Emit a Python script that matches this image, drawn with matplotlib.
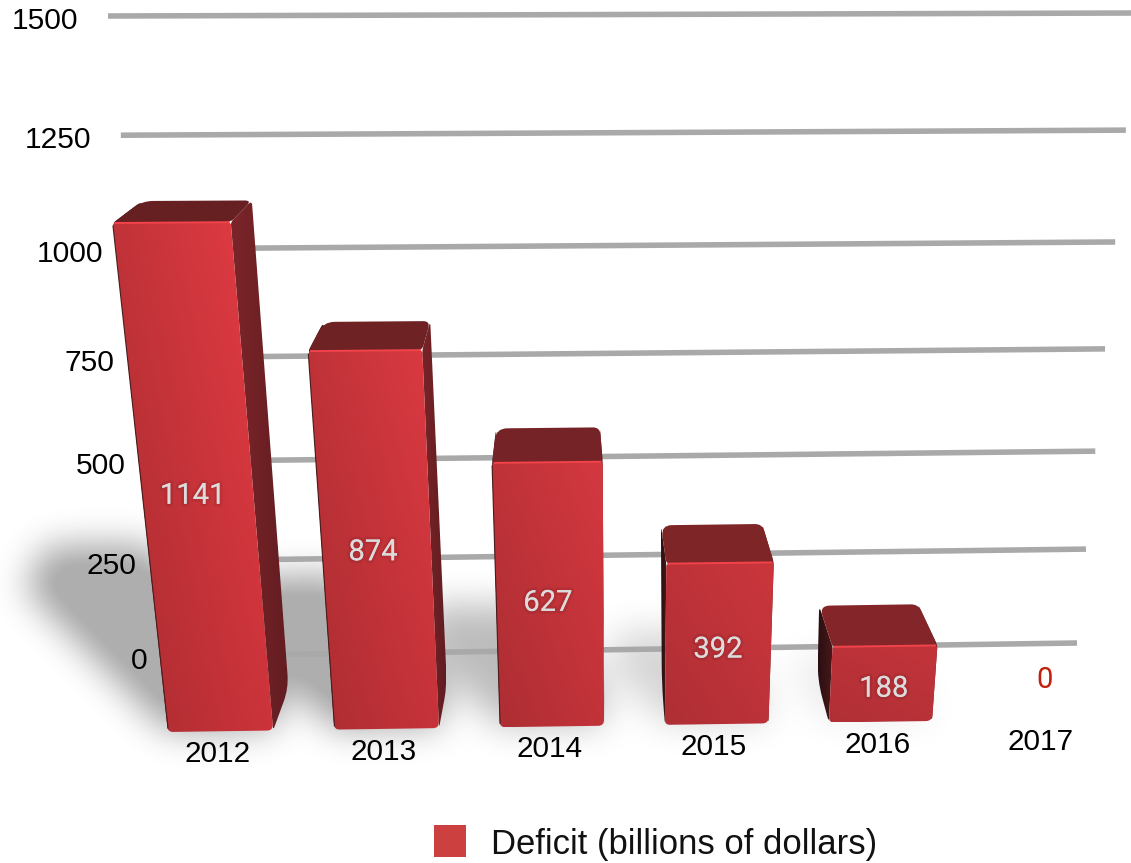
"""Federal deficit by year, drawn as perspective 3D columns on a receding wall."""
import matplotlib
matplotlib.use("Agg")
import matplotlib.pyplot as plt
import matplotlib.patheffects as pe
import numpy as np
from matplotlib.colors import to_rgb
from matplotlib.patches import PathPatch, Rectangle
from matplotlib.path import Path

plt.rcParams["font.family"] = "Liberation Sans"

YEARS = ["2012", "2013", "2014", "2015", "2016", "2017"]
DEFICIT = [1141, 874, 627, 392, 188, 0]
TICKS = [0, 250, 500, 750, 1000, 1250, 1500]
LEGEND_LABEL = "Deficit (billions of dollars)"

W, H = 1131, 863
VMAX_FACE = 1141
BAR_W = 0.631
U_END = 4 + BAR_W

GRID_COLOR = "#a9a9a9"
SWATCH = "#cc4040"


def homography(src, dst):
    """Solve the 3x3 projective map taking four src points to four dst points."""
    a, b = [], []
    for (u, v), (x, y) in zip(src, dst):
        a.append([u, v, 1, 0, 0, 0, -u * x, -v * x])
        a.append([0, 0, 0, u, v, 1, -u * y, -v * y])
        b += [x, y]
    h = np.linalg.solve(np.array(a, float), np.array(b, float))
    return np.append(h, 1.0).reshape(3, 3)


def plane(corners, u_end, v_end):
    """corners are the pixel spots of (0,0), (u_end,0), (u_end,v_end), (0,v_end)."""
    h = homography([(0, 0), (u_end, 0), (u_end, v_end), (0, v_end)], corners)

    def project(u, v):
        p = h @ np.array([u, v, 1.0])
        return np.array([p[0] / p[2], p[1] / p[2]])
    return project


front = plane([(168, 732), (932, 721), (968, 217), (113, 223)], U_END, VMAX_FACE)
back = plane([(188, 690), (915, 678), (935, 197), (142, 201)], U_END, VMAX_FACE)
wall = plane([(177, 656), (1077, 643), (1137, 13), (108, 16)], 1, 1500)


def rounded(points, radii):
    """Closed path through points with each corner eased by its radius."""
    pts = [np.asarray(p, float) for p in points]
    n = len(pts)
    verts, codes = [], []
    for i, p in enumerate(pts):
        prev, nxt = pts[i - 1], pts[(i + 1) % n]
        r = radii[i] if np.ndim(radii) else radii
        d1 = np.linalg.norm(prev - p)
        d2 = np.linalg.norm(nxt - p)
        a = p + (prev - p) * min(r / d1, 0.5)
        b = p + (nxt - p) * min(r / d2, 0.5)
        verts += [a, p, b]
        codes += [Path.MOVETO if i == 0 else Path.LINETO, Path.CURVE3, Path.CURVE3]
    verts.append(verts[0])
    codes.append(Path.CLOSEPOLY)
    return Path(np.array(verts), codes)


def mix(c0, c1, t):
    return np.array(to_rgb(c0)) * t + np.array(to_rgb(c1)) * (1 - t)


def gradient_face(ax, path, tl, tr, bl, br, zorder):
    """Fill path with a colour blended between the four bbox corners."""
    box = path.get_extents()
    s, t = np.meshgrid(np.linspace(0, 1, 48), np.linspace(0, 1, 48))
    s, t = s[..., None], t[..., None]
    img = (tl * (1 - s) + tr * s) * (1 - t) + (bl * (1 - s) + br * s) * t
    im = ax.imshow(img, extent=(box.x0, box.x1, box.y1, box.y0), origin="upper",
                   aspect="auto", interpolation="bilinear", zorder=zorder)
    clip = PathPatch(path, facecolor="none", edgecolor="none", zorder=zorder)
    ax.add_patch(clip)
    im.set_clip_path(clip)


def box_blur(a, r, axis):
    pad = [(0, 0), (0, 0)]
    pad[axis] = (r + 1, r)
    c = np.cumsum(np.pad(a, pad, mode="edge"), axis=axis)
    return (np.take(c, range(2 * r + 1, c.shape[axis]), axis=axis)
            - np.take(c, range(0, c.shape[axis] - 2 * r - 1), axis=axis)) / (2 * r + 1)


def soft(a, r):
    for _ in range(3):
        a = box_blur(box_blur(a, r, 0), r, 1)
    return a


def cast_shadows(ax):
    # half resolution is plenty for something this blurry
    xs, ys = np.meshgrid(np.arange(0, W, 2) + 1.0, np.arange(0, H, 2) + 1.0)
    grid = np.column_stack([xs.ravel(), ys.ravel()])
    mask = np.zeros(xs.shape)
    for i, val in enumerate(DEFICIT):
        if val == 0:
            continue
        fl, fr = front(i, 0), front(i + BAR_W, 0)
        bl, br = back(i, 0), back(i + BAR_W, 0)
        off = np.array([-0.125, -0.125]) * val
        hexagon = Path([fl, fl + off, bl + off, br + off, br, fr, fl])
        inside = hexagon.contains_points(grid).reshape(xs.shape)
        # short columns throw a fainter shadow
        mask = np.maximum(mask, inside * min(1.0, val / 874))
    mask = soft(mask, 8)
    rgba = np.zeros(mask.shape + (4,))
    rgba[..., 3] = np.clip(mask * 1.15, 0, 1) * 0.32
    ax.imshow(rgba, extent=(0, W, H, 0), origin="upper", aspect="auto", zorder=1)


def draw_bar(ax, i, val):
    lit = 1 - i / 4
    z = 5 + i
    ftl, ftr = front(i, val), front(i + BAR_W, val)
    fbl, fbr = front(i, 0), front(i + BAR_W, 0)
    btl, btr = back(i, val), back(i + BAR_W, val)
    bbl, bbr = back(i, 0), back(i + BAR_W, 0)

    side = mix("#631d21", "#5a1c1f", lit)
    edge = mix("#7c2529", "#6e2024", lit)
    right = rounded([ftr, btr, bbr, fbr], [3, 5, 14, 4])
    gradient_face(ax, right, edge, side, edge, side, z)
    left = rounded([btl, ftl, fbl, bbl], [6, 3, 5, 18])
    gradient_face(ax, left, np.array(to_rgb("#2a0f11")), np.array(to_rgb("#4a181b")),
                  np.array(to_rgb("#2a0f11")), np.array(to_rgb("#4a181b")), z)

    top_col = mix("#662022", "#842629", lit)
    ax.add_patch(PathPatch(rounded([ftl, ftr, btr, btl], [4, 5, 7, 11]),
                           facecolor=top_col, edgecolor="none", zorder=z + 0.1))

    face = rounded([ftl, ftr, fbr, fbl], [3, 3, 6, 5])
    gradient_face(ax, face,
                  mix("#c03338", "#bc3238", lit), mix("#e63c45", "#c2343a", lit),
                  mix("#a82c30", "#b03036", lit), mix("#cc333a", "#b83238", lit), z + 0.2)
    # lit rim along the top of the front face
    ax.plot([ftl[0] + 2, ftr[0] - 2], [ftl[1], ftr[1]], color="#f2424a", lw=1.4,
            solid_capstyle="round", zorder=z + 0.3)
    if i < 3:
        ax.plot([ftl[0], fbl[0]], [ftl[1] + 3, fbl[1] - 4], color="#4a1c1e", lw=0.8, zorder=z + 0.3)


fig = plt.figure(figsize=(W / 100, H / 100), dpi=100)
ax = fig.add_axes([0, 0, 1, 1])
ax.set_axis_off()

for tick in TICKS:
    p0, p1 = wall(0, tick), wall(1, tick)
    ax.plot([p0[0], p1[0]], [p0[1], p1[1]], color=GRID_COLOR, lw=4.0,
            solid_capstyle="butt", zorder=2)
    ax.text(p0[0] - 30, p0[1] + 5, str(tick), fontsize=21.6, color="black",
            ha="right", va="center", zorder=20)

cast_shadows(ax)

for i, val in enumerate(DEFICIT):
    if val > 0:
        draw_bar(ax, i, val)

halo = [pe.withStroke(linewidth=4, foreground=(0, 0, 0, 0.07))]
for i, val in enumerate(DEFICIT):
    x, y = front(i + BAR_W / 2, val / 2)
    if val > 0:
        ax.text(x - 5 + 1.5 * i, y + 4.5, str(val), fontsize=21, color="#dcdcdc",
                family="Roboto", ha="center", va="center", zorder=30, path_effects=halo)
    else:
        ax.text(x + 1, y - 39, str(val), fontsize=21, color="#c0200c",
                family="Roboto", ha="center", va="center", zorder=30)

for i, year in enumerate(YEARS):
    x, y = front(i + BAR_W / 2, 0)
    ax.text(x - 3, y + 23, year, fontsize=21.4, color="black",
            ha="center", va="center", zorder=30)

ax.add_patch(Rectangle((434, 825), 32, 32, facecolor=SWATCH, edgecolor="none", zorder=30))
ax.text(491, 844, LEGEND_LABEL, fontsize=24.9, color="#111111", ha="left", va="center", zorder=30)

ax.set_xlim(0, W)
ax.set_ylim(H, 0)
fig.savefig("out.png", dpi=100)
